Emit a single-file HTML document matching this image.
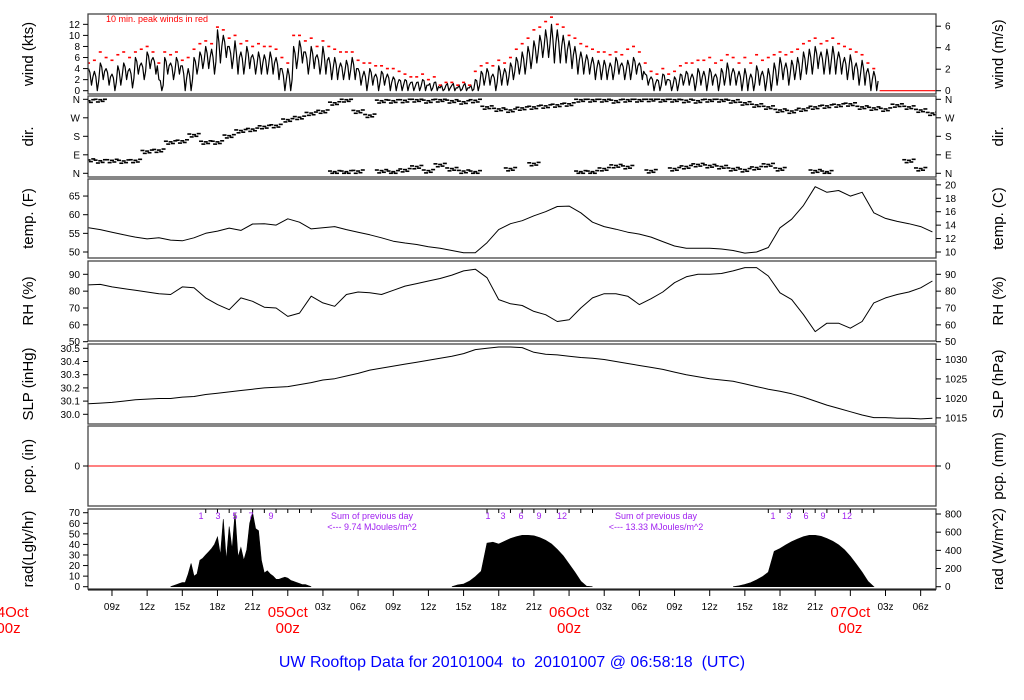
<!DOCTYPE html>
<html><head><meta charset="utf-8"><style>
html,body{margin:0;padding:0;background:#fff;}
svg{display:block;font-family:"Liberation Sans",Arial,sans-serif;}
</style></head><body>
<svg id="chart" width="1024" height="700" viewBox="0 0 1024 700" xmlns="http://www.w3.org/2000/svg"></svg>
<script>
// ---------- data ----------
const hourStart = 7; // hours since 2010-10-04 00z
const wHi = [4,3.5,5,4,3,4.5,5,4, 6,5,7,6,2,6,5,6, 4.5,4,6,7,8,7.5,11,10, 8,9,7,8,6.5,7,6.5,7, 6,4,4,8,9,7,8,6.5, 8,6,6,5,5.5,6,4,3.5, 4,3,3.5,3,2.5,2,2,1.5, 1.5,2,1,1.5,0.5,1,1,0.5, 1,0.5,2,3.5,4,3,4.5,4, 5,6,7,8,9,10,11,12, 11,10,9,8,7,6.5,6,5.5, 5.5,5,6,5,5.5,6,5,3, 2.5,2,3,2,2.5,3,3.5,3, 4,3.5,4,3,4,5,4,3.5, 4,3,4.5,3.5,4,5,6,5, 5.5,6,7,7.5,8,7,7.5,8, 7,6,6.5,5,5.5,4,3.5];
const wLo = [1,0,2,1,0,1,2,0.5, 3,2,4,3,0,3,2,3, 0,0,3,4,4,3,5,6, 4,3,3,4,3,3,3,3, 2,0,0,4,5,3,4,3, 3,2,2,2,2,2,1,0, 1,0,1,0,0,0,0,0, 0,0,0,0,0,0,0,0, 0,0,0,1,1,0,1,1, 2,3,3,4,5,6,6,5, 5,5,4,3,3,3,2,2, 2,2,3,2,2,3,2,1, 0,0,1,0,0,1,1,0, 1,0,1,0,1,1,1,0, 0,0,1,0,0,1,2,1, 2,2,3,3,4,3,3,3, 3,2,2,1,1,0,0];
const wPk = [5,5.5,7,6,5.5,6.5,7,6, 7,7.5,8,7,5,7,6.5,7, 5.5,6,7.5,8.5,9,8.5,11.5,11, 9.5,10,8.5,9,8,8.5,8,8, 7.5,6,5,10,10,9,9.5,8, 9,8,7.5,7,7,7,5.5,5, 5,4.5,4.5,4,4,3.5,3,2.5, 2.5,3,2,2.5,1,1.5,1.5,1, 1.5,1,3.5,4.5,5,4.5,5.5,5, 6,7.5,8.5,9.5,11,11.5,12.5,13.3, 12,11.5,10,9.5,8.5,8,7.5,7, 7,6.5,7,6.5,7.5,8,7,5, 3.5,3,4,3,3.5,4.5,5,5, 5.5,5.5,6,5,5.5,6.5,6,5, 6,5,6.5,5.5,6,6.5,7,6.5, 7,7.5,8.5,9,9.5,8.5,9,9.5, 8.5,8,7.5,7,6.5,5,4];
const dirA = [62,58,60,57,60, 105,110,150, 155,185,150,150, 180,205,212,225, 230,258,270,290,300, 340,355,300,280,350,350, 352,355,350,355,350,345,352, 320,310,305,315,320,325,330,335, 355,355,355,350,355,355,357,355, 355,352,350,355,355,350,340, 330,320,305,300, 310,320,325,330,335,320,315,310,330, 320,305,290];
const dirB = [350,355,null,null,null,null,null,null,null,null,null,null,null,null,null,null,null,null,null,null,null, 5,5,8,null,10,5, 15,30,10,40,20,8,5, null,null,20,null,45,null,null,null, 5,5,20,35,30,null,10,null, 20,30,40,35,30,20,15, 25,40,20,null, null,10,5,null,null,null,null,null,null, 60,20,null];
const tempF = [56.5,56,55.3,54.6,54,53.5,53.8,53.2,53,53.8,55,55.6,56.4,55.8,57.5,57.6,57.2,58.9,58,56.2,56.5,56.8,56,55.3,54.6,53.8,52.9,52.4,52,51.4,51,50.4,49.8,49.8,52.5,56,57.6,58.4,59.7,60.8,62.2,62.3,60.5,58,56.8,56.1,55.3,54.8,54,52.8,51.6,51,51,51,50.8,50.4,49.7,50,51.2,56.5,58.8,62.5,67.5,66,66.5,65,66,60.5,59,58.2,57.6,56.8,55.4];
const rh = [83.7,84,82.5,81.5,80.5,79.5,78.5,78,82.5,82,76,72,69,76,74,70.5,70,65,67,77,73,71,78,79.5,79,78,80.5,83,84.5,86,87.5,89.5,92,93,88,75,72.5,71.5,68,66,62,63,70,76,78.5,78.5,77,72,75.5,79.5,85,88.5,90,90,90.5,92,94,94,89,79,75,66,56,61,61,58,62,73,76,78,79.5,82,86];
const slp = [30.08,30.085,30.09,30.10,30.11,30.115,30.12,30.12,30.13,30.135,30.15,30.16,30.17,30.18,30.19,30.20,30.205,30.21,30.225,30.24,30.26,30.27,30.29,30.31,30.335,30.35,30.365,30.38,30.395,30.41,30.425,30.44,30.46,30.49,30.50,30.51,30.51,30.505,30.47,30.455,30.45,30.44,30.43,30.425,30.415,30.40,30.385,30.37,30.355,30.34,30.32,30.30,30.285,30.27,30.26,30.25,30.23,30.21,30.19,30.175,30.155,30.13,30.10,30.07,30.045,30.02,29.995,29.975,29.975,29.97,29.97,29.965,29.97];
const rad1Start = 14; // Ly/hr, 15-min
const rad1 = [0,1,2,3,4,4,12,22,10,12,25,27,30,33,36,40,47,30,64,25,57,35,70,28,37,25,35,60,70,55,53,25,13,15,12,10,7,7,8,9,8,6,5,4,3,2,2,1,0];
const rad2Start = 38; // W/m2, 30-min
const rad2 = [0,20,30,60,110,170,480,490,470,500,530,550,565,565,560,540,510,470,410,340,250,160,60,5,0];
const rad3Start = 62;
const rad3 = [0,10,25,45,75,110,160,390,420,460,495,525,550,565,565,555,530,500,460,405,335,250,160,60,0];
const windTicks = [0,2,4,6,8,10,12];
const windMsTicks = [0,2,4,6];
const dirTicks = ["N","E","S","W","N"];
const tempTicks = [50,55,60,65];
const tempCTicks = [10,12,14,16,18,20];
const rhTicks = [50,60,70,80,90];
const slpTicks = ["30.0","30.1","30.2","30.3","30.4","30.5"];
const hpaTicks = [1015,1020,1025,1030];
const radTicks = [0,10,20,30,40,50,60,70];
const radWTicks = [0,200,400,600,800];
const xTickHours = [9,12,15,18,21,24,27,30,33,36,39,42,45,48,51,54,57,60,63,66,69,72,75,78];
const dayLabels = ["04Oct","05Oct","06Oct","07Oct"];

// ---------- scales ----------
const L=88, R=936;
const X = h => 6.5 + h*11.72;
const Yw = k => 90.7 - k*5.53;
const Yd = d => 173.3 - d*74/360;
const Yt = f => 252 - (f-50)*3.73;
const Yr = r => 341.7 - (r-50)*1.685;
const Ys = p => 414.3 - (p-30)*132;
const Yrad = w => 586.7 - (w/11.63)*1.057;
const YradLy = ly => 586.7 - ly*1.057;

const NS="http://www.w3.org/2000/svg";
const svg=document.getElementById('chart');
function mk(tag, attrs, parent){
  const e=document.createElementNS(NS,tag);
  for(const k in attrs) e.setAttribute(k,attrs[k]);
  (parent||svg).appendChild(e); return e;
}
function txt(s,x,y,size,anchor,fill,parent){
  const t=mk('text',{x:x,y:y,'font-size':size,'text-anchor':anchor||'middle',fill:fill||'#000'},parent);
  t.textContent=s; return t;
}
const panels = [
  {id:'wind',top:14,bot:94,ll:'wind (kts)',rl:'wind (m/s)'},
  {id:'dir',top:96,bot:177,ll:'dir.',rl:'dir.'},
  {id:'temp',top:179,bot:258,ll:'temp. (F)',rl:'temp. (C)'},
  {id:'rh',top:261,bot:341,ll:'RH (%)',rl:'RH (%)'},
  {id:'slp',top:344,bot:424,ll:'SLP (inHg)',rl:'SLP (hPa)'},
  {id:'pcp',top:426,bot:506,ll:'pcp. (in)',rl:'pcp. (mm)'},
  {id:'rad',top:509,bot:589,ll:'rad(Lgly/hr)',rl:'rad (W/m^2)'}
];
const defs=mk('defs',{});
panels.forEach(p=>{
  const cp=mk('clipPath',{id:'clip-'+p.id},defs);
  mk('rect',{x:L,y:p.top,width:R-L,height:p.bot-p.top},cp);
  const g=mk('g',{});
  
  
  p.g=g;
  p.plot=mk('g',{'clip-path':'url(#clip-'+p.id+')'},g);
  const fr=mk('rect',{x:L,y:p.top,width:R-L,height:p.bot-p.top,fill:'none',stroke:'#444','stroke-width':1.3},g);
  
  
  const cy=(p.top+p.bot)/2;
  const lt=txt(p.ll,0,0,15,'middle','#000',g);
  lt.setAttribute('transform','translate(33,'+cy+') rotate(-90)');
  
  
  const rt=txt(p.rl,0,0,15,'middle','#000',g);
  rt.setAttribute('transform','translate(1003,'+cy+') rotate(-90)');
  
  
});
function lt(p,label,y){ // left tick
  mk('line',{x1:L-5,x2:L,y1:y,y2:y,stroke:'#000','stroke-width':1},p.g);
  const t=txt(label,L-8,y+3.5,10,'end','#000',p.g);
  
  
}
function rtk(p,label,y){
  mk('line',{x1:R,x2:R+5,y1:y,y2:y,stroke:'#000','stroke-width':1},p.g);
  const t=txt(label,R+9,y+3.5,10,'start','#000',p.g);
  
  
}
const P={}; panels.forEach(p=>P[p.id]=p);
windTicks.forEach(v=>lt(P.wind,String(v),Yw(v)));
windMsTicks.forEach(v=>rtk(P.wind,String(v),Yw(v*1.9438)));
dirTicks.forEach((v,i)=>{lt(P.dir,v,Yd(i*90)); rtk(P.dir,v,Yd(i*90));});
tempTicks.forEach(v=>lt(P.temp,String(v),Yt(v)));
tempCTicks.forEach(v=>rtk(P.temp,String(v),Yt(v*1.8+32)));
rhTicks.forEach(v=>{lt(P.rh,String(v),Yr(v)); rtk(P.rh,String(v),Yr(v));});
slpTicks.forEach(v=>lt(P.slp,v,Ys(parseFloat(v))));
hpaTicks.forEach(v=>rtk(P.slp,String(v),Ys(v/33.8639)));
lt(P.pcp,'0',466); rtk(P.pcp,'0',466);
radTicks.forEach(v=>lt(P.rad,String(v),YradLy(v)));
radWTicks.forEach(v=>rtk(P.rad,String(v),Yrad(v)));

function line(p,pts,color,w,name){
  const pl=mk('polyline',{points:pts.map(q=>q[0].toFixed(1)+','+q[1].toFixed(1)).join(' '),fill:'none',stroke:color,'stroke-width':w,'stroke-linejoin':'round'},p.plot);
  
  
  return pl;
}
// wind
const wpts=[];
wHi.forEach((v,i)=>{const h=hourStart+i*0.5; wpts.push([X(h),Yw(v)]); wpts.push([X(h+0.12),Yw((v+wLo[i])/2+0.8)]); wpts.push([X(h+0.25),Yw(wLo[i])]); wpts.push([X(h+0.37),Yw((v+wLo[i])/2)]);});
line(P.wind,wpts,'#000',1.2,'wind-speed-line');
wPk.forEach((v,i)=>{
  const h=hourStart+i*0.5;
  const r=mk('rect',{x:X(h)-1.5,y:Yw(v)-0.8,width:3,height:1.6,fill:'#ff0000'},P.wind.plot);
  
  
});
const calmLine=mk('line',{x1:X(74.5),x2:R,y1:Yw(0),y2:Yw(0),stroke:'#ff0000','stroke-width':1.2},P.wind.plot);


const wn=txt('10 min. peak winds in red',106,22,9,'start','#ff0000',P.wind.g);


// dir
const spread=[[-0.4,6],[-0.2,-8],[0,3],[0.2,-5],[0.4,8]];
function dirDots(arr,name){
  arr.forEach((v,i)=>{
    if(v===null) return;
    const h=hourStart+i;
    spread.forEach(s=>{
      let d=v+s[1]; if(d>360) d=360; if(d<0) d=0;
      const r=mk('rect',{x:X(h+s[0])-2,y:Yd(d)-0.8,width:4,height:1.6,fill:'#000'},P.dir.plot);
      
      
    });
  });
}
dirDots(dirA,'wind-direction-point');
dirDots(dirB,'wind-direction-secondary-point');
// temp, rh, slp
line(P.temp,tempF.map((v,i)=>[X(hourStart+i),Yt(v)]),'#000',1,'temperature-line');
line(P.rh,rh.map((v,i)=>[X(hourStart+i),Yr(v)]),'#000',1,'humidity-line');
line(P.slp,slp.map((v,i)=>[X(hourStart+i),Ys(v)]),'#000',1,'pressure-line');
const pl=mk('line',{x1:L,x2:R,y1:466,y2:466,stroke:'#ff0000','stroke-width':1},P.pcp.plot);


// rad
function area(pts,name){
  const d='M'+pts[0][0]+','+YradLy(0)+' '+pts.map(q=>'L'+q[0].toFixed(1)+','+q[1].toFixed(1)).join(' ')+' L'+pts[pts.length-1][0]+','+YradLy(0)+' Z';
  const a=mk('path',{d:d,fill:'#000',stroke:'#000','stroke-width':0.6},P.rad.plot);
  
  
}
area(rad1.map((v,i)=>[X(rad1Start+i*0.25),YradLy(v)]),'radiation-day-1');
area(rad2.map((v,i)=>[X(rad2Start+i*0.5),Yrad(v)]),'radiation-day-2');
area(rad3.map((v,i)=>[X(rad3Start+i*0.5),Yrad(v)]),'radiation-day-3');
// rad hour annotations
const purple='#a020f0';
[[17,['1','3','5','7','9'],[201,218,235,251,271]],[41,['1','3','6','9','12'],[488,503,521,539,562]],[65,['1','3','6','9','12'],[773,789,806,823,847]]].forEach(d=>{
  for(let k=0;k<10;k++){ mk('line',{x1:X(d[0]+k),x2:X(d[0]+k),y1:509,y2:513,stroke:'#000','stroke-width':1},P.rad.g); }
  d[1].forEach((s,j)=>{const t=txt(s,d[2][j],519,9,'middle',purple,P.rad.g);
    
    });
});
[[372,'9.74'],[656,'13.33']].forEach(s=>{
  const a=txt('Sum of previous day',s[0],519,9,'middle',purple,P.rad.g);
  
  
  const b=txt('<--- '+s[1]+' MJoules/m^2',s[0],530,9,'middle',purple,P.rad.g);
  
  
});
// x axis
const xa=mk('g',{});


mk('line',{x1:L,x2:R,y1:590,y2:590,stroke:'#000','stroke-width':1},xa);
xTickHours.forEach(h=>{
  mk('line',{x1:X(h),x2:X(h),y1:590,y2:596,stroke:'#000','stroke-width':1},xa);
  if(h%24!==0){
    const hh=h%24;
    const t=txt((hh<10?'0':'')+hh+'z',X(h),610,10,'middle','#000',xa);
    
    
  }
});
dayLabels.forEach((s,i)=>{
  const x=X(i*24)+(i===0?2:0);
  const a=txt(s,x,617,15,'middle','#ff0000',xa);
  
  
  const b=txt('00z',x,633,15,'middle','#ff0000',xa);
  
  
});
const title=txt('UW Rooftop Data for 20101004  to  20101007 @ 06:58:18  (UTC)',512,667,16,'middle','#0000ff');
title.setAttribute('style','white-space:pre');


</script>
</body></html>
